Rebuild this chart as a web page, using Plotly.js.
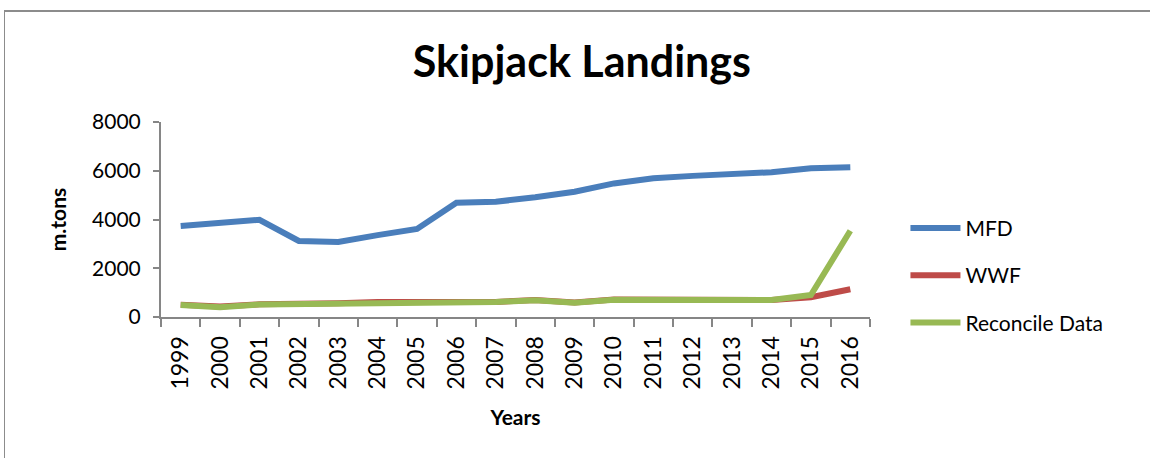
<!DOCTYPE html>
<html>
<head>
<meta charset="utf-8">
<script src="https://cdn.plot.ly/plotly-3.0.1.min.js"></script>
<style>
body{margin:0;padding:0;background:#fff;}
#frame{position:absolute;left:4px;top:10px;width:1160px;height:470px;border-left:1px solid #8c8c8c;border-top:2px solid #8c8c8c;box-sizing:border-box;}
#chart{position:absolute;left:0;top:0;width:1150px;height:458px;}
</style>
</head>
<body>
<div id="frame"></div>
<div id="chart"></div>
<script>
const years = ["1999","2000","2001","2002","2003","2004","2005","2006","2007","2008","2009","2010","2011","2012","2013","2014","2015","2016"];
const mfd = [3730,3840,3990,3120,3080,3360,3610,4690,4730,4910,5140,5480,5690,5790,5860,5940,6100,6140];
const wwf = [500,430,520,530,560,615,600,630,620,700,600,715,700,735,670,700,810,1140];
const reconcile = [490,396,515,530,560,615,600,628,615,690,588,711,697,730,670,700,900,3540];
const seriesNames = ["MFD","WWF","Reconcile Data"];
const colors = ["#4A7EBB","#BE4B48","#98B954"];
const font = "Lato, 'Open Sans', sans-serif";

const data = [mfd, wwf, reconcile].map((vals, i) => ({
  x: years, y: vals, type: "scatter", mode: "lines", name: seriesNames[i],
  legendgroup: "g" + i,
  line: {color: colors[i], width: 6}
}));

const layout = {
  width: 1150, height: 458,
  paper_bgcolor: "rgba(0,0,0,0)", plot_bgcolor: "rgba(0,0,0,0)",
  margin: {l: 161, r: 280, t: 122, b: 141},
  font: {family: font, color: "#000", size: 20},
  showlegend: true,
  title: {text: "<b>Skipjack Landings</b>", x: 0.506, xanchor: "center", y: 0.865, yanchor: "middle", font: {size: 43, family: font, color: "#000"}},
  xaxis: {
    type: "category", range: [-0.5, 17.5], showgrid: false, zeroline: false,
    showline: true, linecolor: "#868686", linewidth: 2,
    ticks: "outside", ticklen: 8, tickcolor: "#868686", tickwidth: 2, tickson: "boundaries",
    tickangle: -90, tickfont: {size: 23, family: font}, ticklabelstandoff: 8,
    title: {text: "<b>Years</b>", font: {size: 21, family: font}, standoff: 22}
  },
  yaxis: {
    range: [0, 8000], tickvals: [0, 2000, 4000, 6000, 8000], showgrid: false, zeroline: false,
    showline: true, linecolor: "#868686", linewidth: 2,
    ticks: "outside", ticklen: 6, tickcolor: "#868686", tickwidth: 2,
    tickfont: {size: 21, family: font}, ticklabelstandoff: 8,
    title: {text: "<b>m.tons</b>", font: {size: 21, family: font}, standoff: 20}
  },
  legend: {
    x: 1.05, y: 0.56, xanchor: "left", yanchor: "top",
    font: {size: 21, family: font}, traceorder: "grouped", tracegroupgap: 17,
    bgcolor: "rgba(0,0,0,0)", itemwidth: 50
  }
};
Plotly.newPlot("chart", data, layout, {displayModeBar: false, staticPlot: true});
</script>
</body>
</html>
